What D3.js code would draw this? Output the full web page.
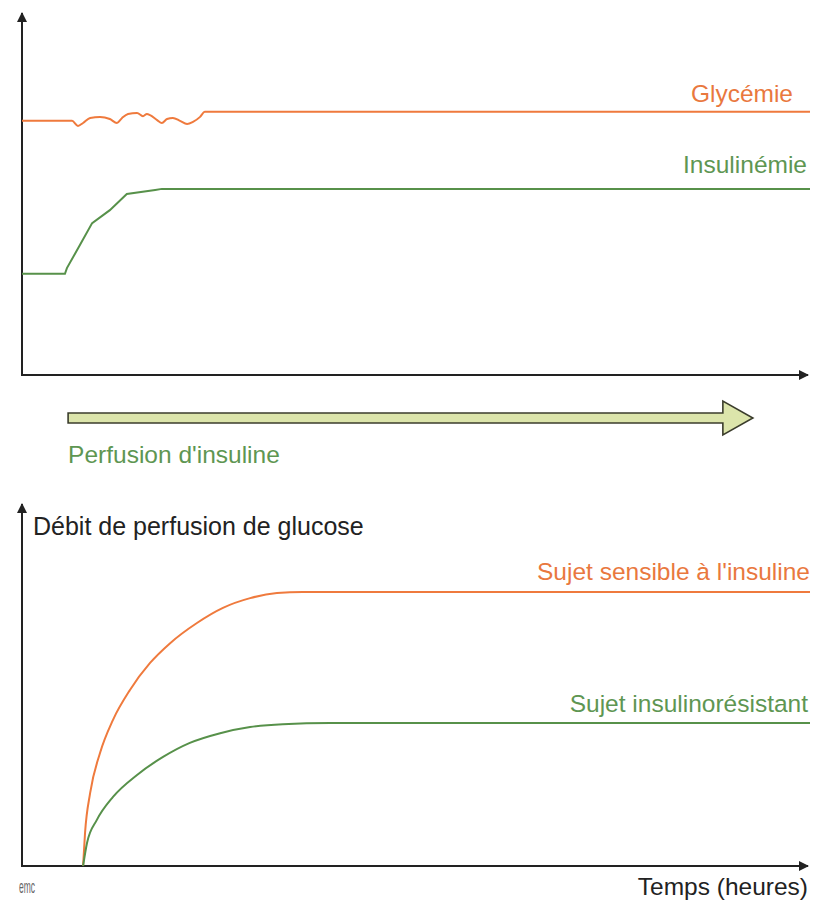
<!DOCTYPE html>
<html>
<head>
<meta charset="utf-8">
<script src="https://cdn.jsdelivr.net/npm/d3@7"></script>
<style>
  body { margin: 0; background: #fff; }
  svg { display: block; font-family: "Liberation Sans", Arial, sans-serif; }
</style>
</head>
<body>
<div id="chart"></div>
<script>
// time in minutes (arbitrary), values in arbitrary units (0-100)
var glycTime = [0, 12.7, 14.2, 15.5, 17.3, 19.8, 22.3, 24.1, 25.4, 26.9, 29.2, 30.7, 31.7, 32.5, 34.3, 35.5, 36.8, 38.3, 40.1, 41.9, 43.4, 45.2, 46.4, 47.5, 200];
var glycValue = [70.6, 70.6, 69.2, 70.0, 71.4, 71.7, 71.1, 70.0, 71.4, 72.5, 72.8, 71.9, 72.5, 72.2, 70.8, 70.0, 71.1, 71.4, 70.6, 69.7, 70.3, 71.7, 73.1, 73.1, 73.1];

var insTime = [0, 10.9, 11.4, 14.7, 17.8, 22.3, 26.6, 33.8, 35.5, 200];
var insValue = [28.1, 28.1, 29.7, 36.1, 42.2, 45.8, 50.3, 51.4, 51.7, 51.7];

// perfusion d'insuline : start / end of the arrow
var perfusion = [11.7, 185.5];

// glucose infusion rate
var sensTime = [15.5, 16.0, 17.3, 19.8, 23.1, 27.4, 32.5, 37.6, 44.4, 51.0, 57.9, 64.7, 71.3, 200];
var sensValue = [0, 9.2, 20.3, 31.4, 40.6, 48.9, 56.4, 61.9, 67.5, 71.7, 74.4, 75.8, 76.1, 76.1];

var resTime = [15.5, 16.5, 19.0, 23.1, 29.2, 35.8, 42.6, 50.3, 57.9, 66.2, 78.2, 200];
var resValue = [0, 6.4, 12.8, 19.2, 25.3, 30.3, 34.2, 36.9, 38.6, 39.4, 39.7, 39.7];

var orange = "#ef7a3d";
var green = "#57914a";
var axisCol = "#222";

var width = 813, height = 915;

var svg = d3.select("#chart").append("svg")
  .attr("width", width)
  .attr("height", height);

// scales
var x = d3.scaleLinear().domain([0, 200]).range([22, 810]);
var yTop = d3.scaleLinear().domain([0, 100]).range([375, 15]);
var yBot = d3.scaleLinear().domain([0, 100]).range([866, 506]);

// arrow marker for axes
svg.append("defs").append("marker")
  .attr("id", "head")
  .attr("viewBox", "0 0 10 10")
  .attr("refX", 9).attr("refY", 5)
  .attr("markerWidth", 6).attr("markerHeight", 5)
  .attr("markerUnits", "strokeWidth")
  .attr("orient", "auto")
  .append("path")
  .attr("d", "M0,0 L10,5 L0,10 Z")
  .attr("fill", axisCol);

function axes(y, yTip) {
  svg.append("line")
    .attr("x1", x(0)).attr("y1", y(0))
    .attr("x2", x(0)).attr("y2", yTip)
    .attr("stroke", axisCol).attr("stroke-width", 2)
    .attr("marker-end", "url(#head)");
  svg.append("line")
    .attr("x1", x(0) - 1).attr("y1", y(0))
    .attr("x2", 808).attr("y2", y(0))
    .attr("stroke", axisCol).attr("stroke-width", 2)
    .attr("marker-end", "url(#head)");
}

axes(yTop, 13);
axes(yBot, 504);

function series(t, v) {
  return t.map(function (d, i) { return [d, v[i]]; });
}

// top panel
var lineTop = d3.line().x(d => x(d[0])).y(d => yTop(d[1]));

svg.append("path")
  .datum(series(glycTime, glycValue))
  .attr("d", lineTop.curve(d3.curveMonotoneX))
  .attr("fill", "none").attr("stroke", orange).attr("stroke-width", 2);

svg.append("path")
  .datum(series(insTime, insValue))
  .attr("d", lineTop.curve(d3.curveLinear))
  .attr("fill", "none").attr("stroke", green).attr("stroke-width", 2);

svg.append("text").text("Glycémie")
  .attr("x", 793).attr("y", 102)
  .attr("text-anchor", "end")
  .attr("font-size", 24.5).attr("fill", "#e9783e");

svg.append("text").text("Insulinémie")
  .attr("x", 807).attr("y", 173)
  .attr("text-anchor", "end")
  .attr("font-size", 24.5).attr("fill", "#5e9652");

// perfusion arrow
var ay = 418, shaft = 5, headH = 17, headL = 30;
var x0 = x(perfusion[0]), x1 = x(perfusion[1]);
svg.append("path")
  .attr("d", "M" + x0 + "," + (ay - shaft) +
    " L" + (x1 - headL) + "," + (ay - shaft) +
    " L" + (x1 - headL) + "," + (ay - headH) +
    " L" + x1 + "," + ay +
    " L" + (x1 - headL) + "," + (ay + headH) +
    " L" + (x1 - headL) + "," + (ay + shaft) +
    " L" + x0 + "," + (ay + shaft) + " Z")
  .attr("fill", "#dce5ab")
  .attr("stroke", "#3b3d2c")
  .attr("stroke-width", 1.6)
  .attr("stroke-linejoin", "miter");

svg.append("text").text("Perfusion d'insuline")
  .attr("x", x0).attr("y", 463)
  .attr("font-size", 24.5).attr("fill", "#5e9652");

// bottom panel
var lineBot = d3.line().x(d => x(d[0])).y(d => yBot(d[1])).curve(d3.curveMonotoneX);

svg.append("path")
  .datum(series(sensTime, sensValue))
  .attr("d", lineBot)
  .attr("fill", "none").attr("stroke", orange).attr("stroke-width", 2);

svg.append("path")
  .datum(series(resTime, resValue))
  .attr("d", lineBot)
  .attr("fill", "none").attr("stroke", green).attr("stroke-width", 2);

svg.append("text").text("Débit de perfusion de glucose")
  .attr("x", 33).attr("y", 535)
  .attr("font-size", 25).attr("fill", "#222");

svg.append("text").text("Sujet sensible à l'insuline")
  .attr("x", 810).attr("y", 580)
  .attr("text-anchor", "end")
  .attr("font-size", 24.5).attr("fill", "#e9783e");

svg.append("text").text("Sujet insulinorésistant")
  .attr("x", 808).attr("y", 712)
  .attr("text-anchor", "end")
  .attr("font-size", 24.5).attr("fill", "#5e9652");

svg.append("text").text("Temps (heures)")
  .attr("x", 808).attr("y", 895)
  .attr("text-anchor", "end")
  .attr("font-size", 24.5).attr("fill", "#222");

// emc logo
svg.append("text").text("emc")
  .attr("x", 19).attr("y", 893)
  .attr("font-size", 19)
  .attr("textLength", 16).attr("lengthAdjust", "spacingAndGlyphs")
  .attr("fill", "#666");
</script>
</body>
</html>
